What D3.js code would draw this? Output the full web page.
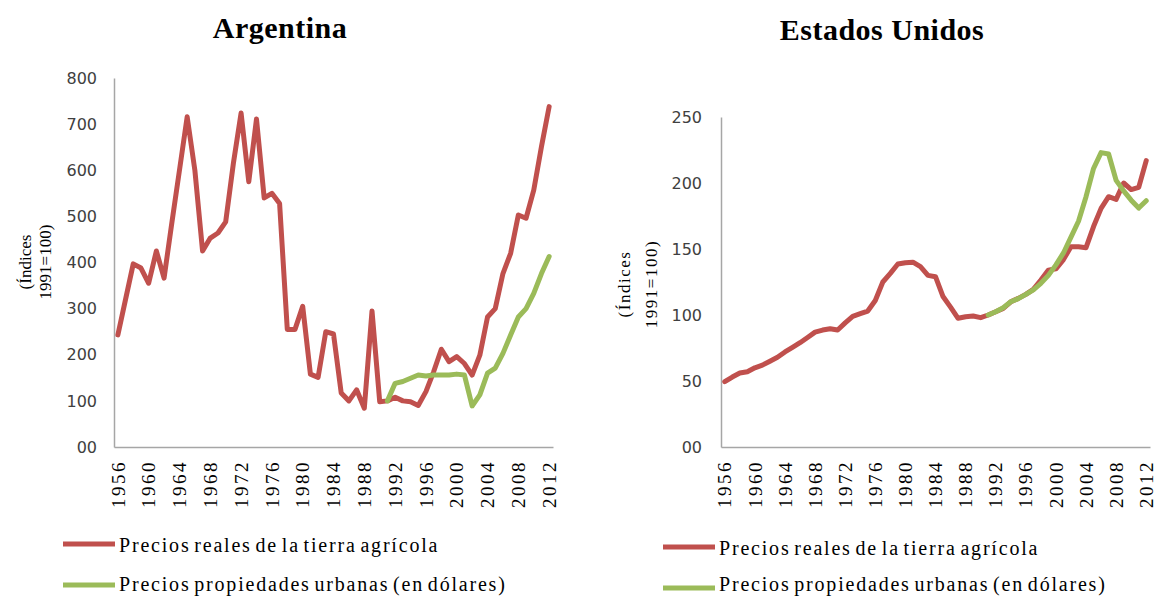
<!DOCTYPE html>
<html>
<head>
<meta charset="utf-8">
<script src="https://cdn.jsdelivr.net/npm/d3@7"></script>
<style>
  body { margin: 0; background: #fff; }
  svg { display: block; }
  .axis path { stroke: #a6a6a6; stroke-width: 1.5px; fill: none; }
  .axis line { display: none; }
  .yaxis text { font-family: "DejaVu Sans", sans-serif; font-size: 16px; fill: #404040; }
  .xaxis text { font-family: "Liberation Serif", serif; font-size: 19px; letter-spacing: 2.5px; fill: #000; }
  .title { font-family: "Liberation Serif", serif; font-weight: bold; font-size: 30px; letter-spacing: 0.5px; }
  .ylabel { font-family: "Liberation Serif", serif; }
  .legend text { font-family: "Liberation Serif", serif; font-size: 20px; letter-spacing: 1.8px; word-spacing: -3px; }
  .line { fill: none; stroke-width: 5px; stroke-linejoin: round; stroke-linecap: round; }
</style>
</head>
<body>
<svg id="chart" width="1157" height="597"></svg>
<script>
//

const years = [
  1956, 1957, 1958, 1959, 1960, 1961, 1962, 1963, 1964, 1965,
  1966, 1967, 1968, 1969, 1970, 1971, 1972, 1973, 1974, 1975,
  1976, 1977, 1978, 1979, 1980, 1981, 1982, 1983, 1984, 1985,
  1986, 1987, 1988, 1989, 1990, 1991, 1992, 1993, 1994, 1995,
  1996, 1997, 1998, 1999, 2000, 2001, 2002, 2003, 2004, 2005,
  2006, 2007, 2008, 2009, 2010, 2011, 2012
]
const urbanYears = years.slice(years.indexOf(1991))
const yearTicks = [1956, 1960, 1964, 1968, 1972, 1976, 1980, 1984, 1988, 1992, 1996, 2000, 2004, 2008, 2012]

// Argentina
const arRural = [
  243, 320, 397, 388, 355, 425, 366, 485, 600, 716,
  600, 425, 453, 464, 488, 615, 724, 575, 711, 540,
  550, 528, 255, 255, 305, 158, 151, 250, 245, 117,
  100, 124, 84, 295, 98, 100, 108, 100, 98, 90,
  120, 163, 212, 185, 196, 181, 156, 199, 282, 300,
  376, 420, 503, 496, 557, 651, 738
]
const arUrban = [
  100, 138, 142, 149, 156, 154, 156, 156, 156, 158,
  156, 89, 113, 160, 171, 203, 243, 282, 300, 333,
  376, 413
]
const arTicks = [0, 100, 200, 300, 400, 500, 600, 700, 800]

// Estados Unidos
const usRural = [
  49.5, 53, 56, 57, 60, 62, 65, 68, 72, 75.5,
  79, 83, 87, 88.6, 89.6, 88.6, 94, 99, 101, 103,
  111, 125, 131.5, 138.6, 139.6, 140, 136.6, 130, 129, 114,
  106, 97.5, 98.7, 99.2, 98, 100, 102.5, 105, 110, 112.6,
  115.6, 119.4, 126.5, 134, 135, 142, 151.7, 151.7, 151, 167,
  180.8, 189.6, 187.6, 200, 195, 196.7, 217
]
const usUrban = [
  100, 102.5, 105.5, 110, 112.4, 115.6, 119, 124, 130, 138,
  147, 159, 171, 189.6, 211, 223, 222, 202, 194, 187,
  181, 186.6
]
const usTicks = [0, 50, 100, 150, 200, 250]

const seriesNames = ['Precios reales de la tierra agrícola', 'Precios propiedades urbanas (en dólares)']
const seriesColors = ['#c0504d', '#9bbb59']

//

const svg = d3.select('#chart')

function drawPanel (p) {
  const x = d3.scaleBand().domain(years).range([p.left, p.right])
  const y = d3.scaleLinear().domain([0, p.max]).range([447, p.top])
  const cx = (d) => x(d) + x.bandwidth() / 2

  const g = svg.append('g')

  g.append('text')
    .attr('class', 'title')
    .attr('x', p.titleX)
    .attr('y', p.titleY)
    .attr('text-anchor', 'middle')
    .text(p.title)

  g.append('g')
    .attr('class', 'axis yaxis')
    .attr('transform', 'translate(' + p.left + ',0)')
    .call(d3.axisLeft(y).tickValues(p.ticks).tickSize(0).tickSizeOuter(0).tickPadding(p.tickPad)
      .tickFormat((d) => d === 0 ? '00' : d))

  const xAxis = g.append('g')
    .attr('class', 'axis xaxis')
    .attr('transform', 'translate(0,447)')
    .call(d3.axisBottom(x).tickValues(yearTicks).tickSize(0).tickSizeOuter(0))
  xAxis.selectAll('text')
    .attr('transform', 'rotate(-90)')
    .attr('x', -13)
    .attr('y', 0)
    .attr('dy', '0.35em')
    .attr('text-anchor', 'end')

  const lab = g.append('text')
    .attr('class', 'ylabel')
    .attr('transform', 'translate(' + p.labX + ',' + p.labY + ') rotate(-90)')
    .attr('text-anchor', 'middle')
    .style('letter-spacing', p.labSpacing + 'px')
    .style('font-size', p.labSize + 'px')
  lab.append('tspan').attr('x', 0).attr('y', 0).text('(Índices')
  lab.append('tspan').attr('x', 0).attr('y', p.labGap).text('1991=100)')

  const line = d3.line()
    .x((d) => cx(d[0]))
    .y((d) => y(d[1]))

  g.append('path')
    .attr('class', 'line')
    .attr('stroke', seriesColors[0])
    .attr('d', line(years.map((yr, i) => [yr, p.rural[i]])))

  g.append('path')
    .attr('class', 'line')
    .attr('stroke', seriesColors[1])
    .attr('d', line(urbanYears.map((yr, i) => [yr, p.urban[i]])))

  const leg = g.append('g').attr('class', 'legend')
  seriesNames.forEach((name, i) => {
    const ly = p.legY[i]
    leg.append('line')
      .attr('x1', p.legX).attr('x2', p.legX + 52)
      .attr('y1', ly).attr('y2', ly)
      .attr('stroke', seriesColors[i])
      .attr('stroke-width', 5)
    leg.append('text')
      .attr('x', p.legX + 56)
      .attr('y', ly + p.legDy[i])
      .text(name)
  })
}

drawPanel({
  title: 'Argentina', titleX: 280, titleY: 38,
  left: 114, right: 553, top: 78, max: 800, ticks: arTicks, tickPad: 17,
  rural: arRural, urban: arUrban,
  labX: 31, labY: 262, labGap: 20, labSpacing: 0, labSize: 17,
  legX: 63, legY: [544, 585], legDy: [8, 6]
})

drawPanel({
  title: 'Estados Unidos', titleX: 882, titleY: 40,
  left: 721, right: 1150, top: 117, max: 250, ticks: usTicks, tickPad: 19,
  rural: usRural, urban: usUrban,
  labX: 630, labY: 284, labGap: 27, labSpacing: 1.5, labSize: 17,
  legX: 663, legY: [547, 588], legDy: [8, 3]
})
</script>
</body>
</html>
